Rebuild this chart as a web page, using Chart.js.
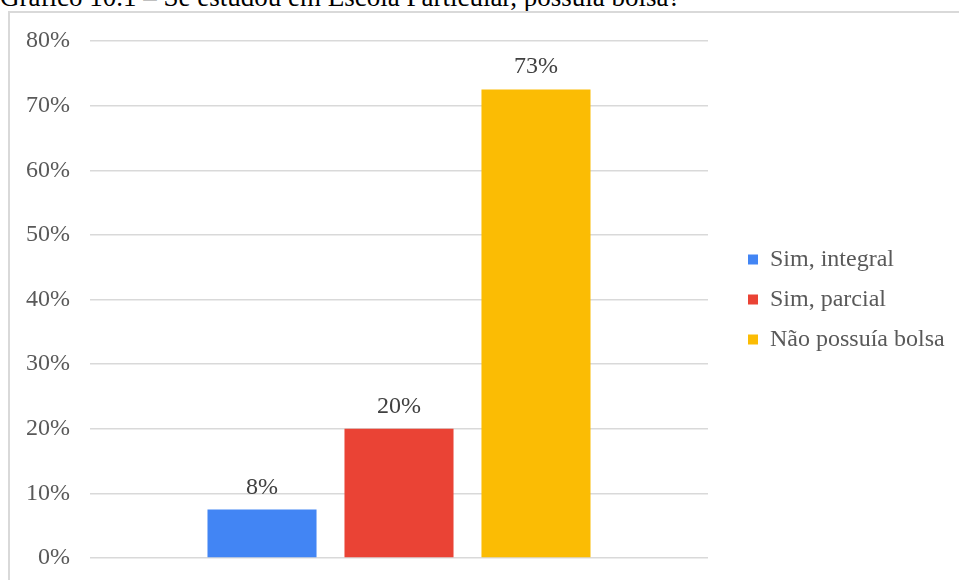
<!DOCTYPE html>
<html>
<head>
<meta charset="utf-8">
<script src="https://cdn.jsdelivr.net/npm/chart.js@4.4.1/dist/chart.umd.min.js"></script>
<style>
  html, body { margin: 0; padding: 0; background: #fff; overflow: hidden; }
  #titulo {
    position: absolute; left: 0; top: -16px; margin: 0;
    font: 27px/27px "Liberation Serif", "Times New Roman", serif;
    color: #000; white-space: nowrap;
  }
  #box {
    position: absolute; left: 8px; top: 11px; width: 960px; height: 580px;
    border-left: 2px solid #d9d9d9; border-top: 2px solid #d9d9d9;
  }
  #grafico { position: absolute; left: 0; top: 0; }
</style>
</head>
<body>
<p id="titulo">Gráfico 10.1 – Se estudou em Escola Particular, possuía bolsa?</p>
<div id="box"><canvas id="grafico" width="949" height="567"></canvas></div>
<script>
  const respostas = ["Sim, integral", "Sim, parcial", "Não possuía bolsa"];
  const percentuais = [7.5, 20, 72.5];
  const cores = ["#4285F4", "#EA4335", "#FBBC04"];
  const ticksY = [0, 10, 20, 30, 40, 50, 60, 70, 80];

  const fonte = "'Liberation Serif', 'Times New Roman', serif";

  // porcentagem escrita acima de cada barra
  const rotulos = {
    id: "rotulos",
    afterDatasetsDraw(chart) {
      const ctx = chart.ctx;
      ctx.save();
      ctx.font = "24px " + fonte;
      ctx.fillStyle = "#404040";
      ctx.textAlign = "center";
      ctx.textBaseline = "alphabetic";
      chart.data.datasets.forEach((ds, i) => {
        const bar = chart.getDatasetMeta(i).data[0];
        ctx.fillText(Math.round(ds.data[0]) + "%", bar.x, bar.y - 16);
      });
      ctx.restore();
    },
  };

  const ctx = document.getElementById("grafico").getContext("2d");
  new Chart(ctx, {
    type: "bar",
    data: {
      labels: [""],
      datasets: respostas.map((r, i) => ({
        label: r,
        data: [percentuais[i]],
        backgroundColor: cores[i],
        categoryPercentage: 0.665,
        barPercentage: 0.796,
      })),
    },
    options: {
      responsive: false,
      animation: false,
      layout: { padding: { top: 28, bottom: 22, left: 0, right: 7 } },
      scales: {
        x: { display: false },
        y: {
          min: 0,
          max: 80,
          afterBuildTicks: (s) => { s.ticks = ticksY.map((v) => ({ value: v })); },
          afterFit: (s) => {
            s.width = 80;
            // o padding dos rótulos não deve empurrar a área do gráfico
            s.paddingTop = 0;
            s.paddingBottom = 0;
          },
          border: { display: false },
          grid: { color: "#d9d9d9", lineWidth: 1.5, drawTicks: false },
          ticks: {
            padding: 20,
            color: "#595959",
            font: { family: fonte, size: 24 },
            callback: (v) => v + "%",
          },
        },
        // espaço entre a área do gráfico e a legenda
        espaco: {
          type: "linear",
          position: "right",
          display: true,
          grid: { display: false, drawTicks: false, color: "transparent" },
          border: { display: false, color: "transparent" },
          ticks: { display: false },
          afterFit: (s) => { s.width = 24; },
        },
      },
      plugins: {
        legend: {
          position: "right",
          maxWidth: 220,
          labels: {
            boxWidth: 10,
            boxHeight: 10,
            padding: 16,
            color: "#595959",
            font: { family: fonte, size: 24 },
          },
        },
        tooltip: { enabled: false },
      },
    },
    plugins: [rotulos],
  });
</script>
</body>
</html>
